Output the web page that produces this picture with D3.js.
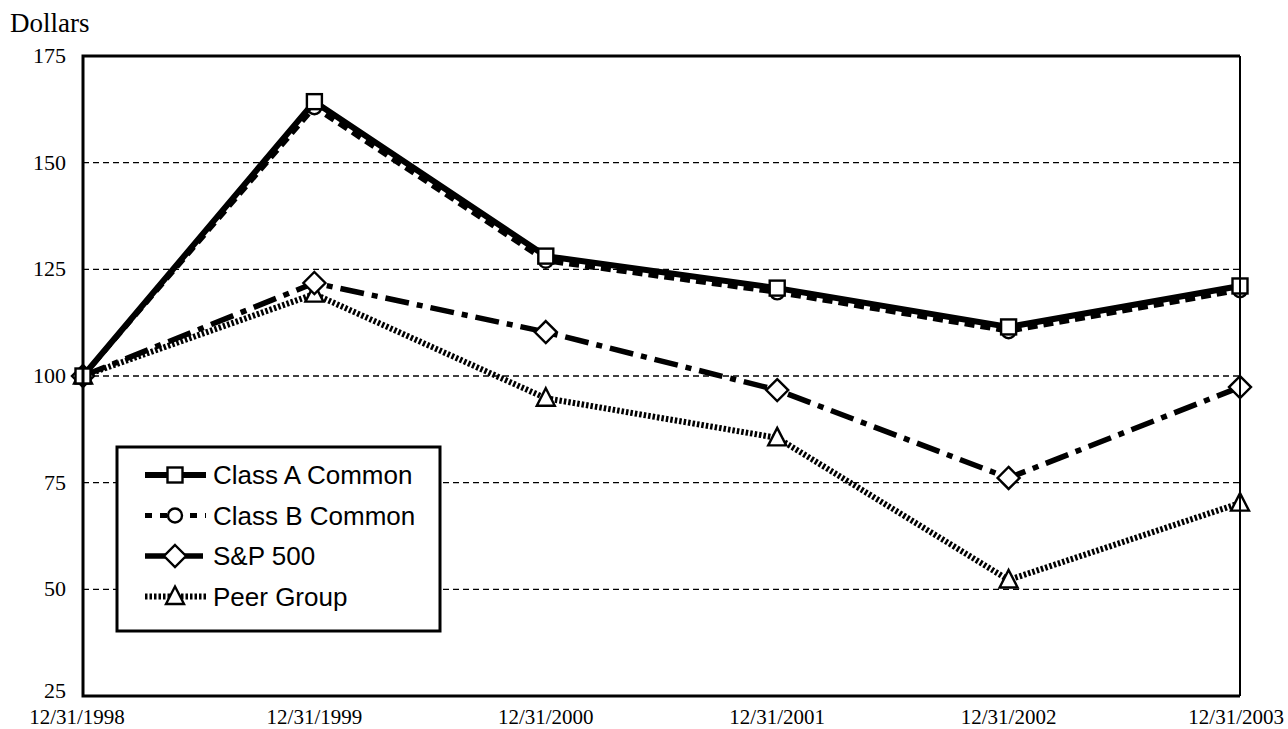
<!DOCTYPE html>
<html>
<head>
<meta charset="utf-8">
<script src="https://cdn.jsdelivr.net/npm/d3@7"></script>
<style>
  body { margin: 0; background: #fff; }
  svg { display: block; }
</style>
</head>
<body>
<svg class="chart"></svg>
<script>
// Chart data
const dates = ["12/31/1998", "12/31/1999", "12/31/2000", "12/31/2001", "12/31/2002", "12/31/2003"];
const classA = [100, 164.3, 128.1, 120.6, 111.5, 121.1];
const classB = [100, 163.0, 127.0, 119.6, 110.5, 120.1];
const sp500 = [100, 121.8, 110.3, 96.7, 76.1, 97.4];
const peerGroup = [100, 119.2, 94.8, 85.5, 52.2, 70.2];
const yTicks = [25, 50, 75, 100, 125, 150, 175];
const gridTicks = [50, 75, 100, 125, 150];

const width = 1288, height = 729;
const margin = { left: 83, right: 48, top: 56, bottom: 33 };
const svg = d3.select(".chart").attr("width", width).attr("height", height);

const x = d3.scalePoint().domain(dates).range([margin.left, width - margin.right]);
const y = d3.scaleLinear().domain([25, 175]).range([height - margin.bottom, margin.top]);

// Gridlines
svg.append("g").selectAll("line")
    .data(gridTicks)
    .enter().append("line")
    .attr("x1", margin.left).attr("x2", width - margin.right)
    .attr("y1", d => y(d)).attr("y2", d => y(d))
    .attr("stroke", "#000")
    .attr("stroke-width", 1.4)
    .attr("stroke-dasharray", "6,4");

// Series definitions (line style + marker)
const series = [
    { name: "Peer Group", values: peerGroup, width: 6, dash: "2.5,2", marker: "triangle", legendDash: "2.5,2" },
    { name: "S&P 500", values: sp500, width: 5.5, dash: "24,8,6,8", marker: "diamond", legendDash: "22,14" },
    { name: "Class B Common", values: classB, width: 5, dash: "10,6", marker: "circle", legendDash: "7,8" },
    { name: "Class A Common", values: classA, width: 6, dash: null, marker: "square", legendDash: null }
];

const line = d3.line().x((d, i) => x(dates[i])).y(d => y(d));

function drawMarker(g, type, cx, cy) {
    const common = s => s.attr("fill", "#fff").attr("stroke", "#000").attr("stroke-width", 2.4);
    if (type === "square") {
        g.append("rect").attr("x", cx - 7.5).attr("y", cy - 7.5).attr("width", 15).attr("height", 15).call(common);
    } else if (type === "circle") {
        g.append("circle").attr("cx", cx).attr("cy", cy).attr("r", 7).call(common);
    } else if (type === "diamond") {
        g.append("path").attr("d", `M${cx},${cy - 11}L${cx + 11},${cy}L${cx},${cy + 11}L${cx - 11},${cy}Z`).call(common);
    } else if (type === "triangle") {
        g.append("path").attr("d", `M${cx},${cy - 10}L${cx + 9},${cy + 7.5}L${cx - 9},${cy + 7.5}Z`).call(common);
    }
}

series.forEach(s => {
    const g = svg.append("g");
    g.append("path")
        .attr("d", line(s.values))
        .attr("fill", "none")
        .attr("stroke", "#000")
        .attr("stroke-width", s.width)
        .attr("stroke-dasharray", s.dash);
    s.values.forEach((v, i) => drawMarker(g, s.marker, x(dates[i]), y(v)));
});

// Frame
svg.append("path")
    .attr("d", `M${width - margin.right},${margin.top}H${margin.left}V${height - margin.bottom}H${width - margin.right}`)
    .attr("fill", "none").attr("stroke", "#000").attr("stroke-width", 3);
svg.append("line")
    .attr("x1", width - margin.right).attr("x2", width - margin.right)
    .attr("y1", margin.top).attr("y2", height - margin.bottom)
    .attr("stroke", "#000").attr("stroke-width", 2);

const serif = "Liberation Serif, Times New Roman, serif";

// Y tick labels (bottom one nudged up to clear the date labels)
svg.append("g").selectAll("text")
    .data(yTicks)
    .enter().append("text")
    .attr("x", 66).attr("y", d => d === 25 ? y(d) + 2 : y(d) + 7)
    .attr("text-anchor", "end")
    .attr("font-family", serif)
    .attr("font-size", 22)
    .text(d => d);

// X tick labels (first and last pulled inside the page edge)
svg.append("g").selectAll("text")
    .data(dates)
    .enter().append("text")
    .attr("x", (d, i) => i === dates.length - 1 ? width - 4 : i === 0 ? x(d) - 6 : x(d))
    .attr("y", 724)
    .attr("text-anchor", (d, i) => i === dates.length - 1 ? "end" : "middle")
    .attr("font-family", serif)
    .attr("font-size", 21)
    .text(d => d);

svg.append("text")
    .attr("x", 10).attr("y", 32)
    .attr("font-family", serif)
    .attr("font-size", 27)
    .text("Dollars");

// Legend
const legend = svg.append("g");
legend.append("rect")
    .attr("x", 117).attr("y", 447).attr("width", 323).attr("height", 184)
    .attr("fill", "#fff").attr("stroke", "#000").attr("stroke-width", 3);

const legendItems = series.slice().reverse();
legendItems.forEach((s, i) => {
    const ly = 475 + i * 40.5;
    legend.append("line")
        .attr("x1", 145).attr("x2", 206).attr("y1", ly).attr("y2", ly)
        .attr("stroke", "#000").attr("stroke-width", s.width)
        .attr("stroke-dasharray", s.legendDash);
    drawMarker(legend, s.marker, 175, ly);
    legend.append("text")
        .attr("x", 213).attr("y", ly + 9)
        .attr("font-family", "Liberation Sans, Arial, sans-serif")
        .attr("font-size", 26)
        .text(s.name);
});
</script>
</body>
</html>
